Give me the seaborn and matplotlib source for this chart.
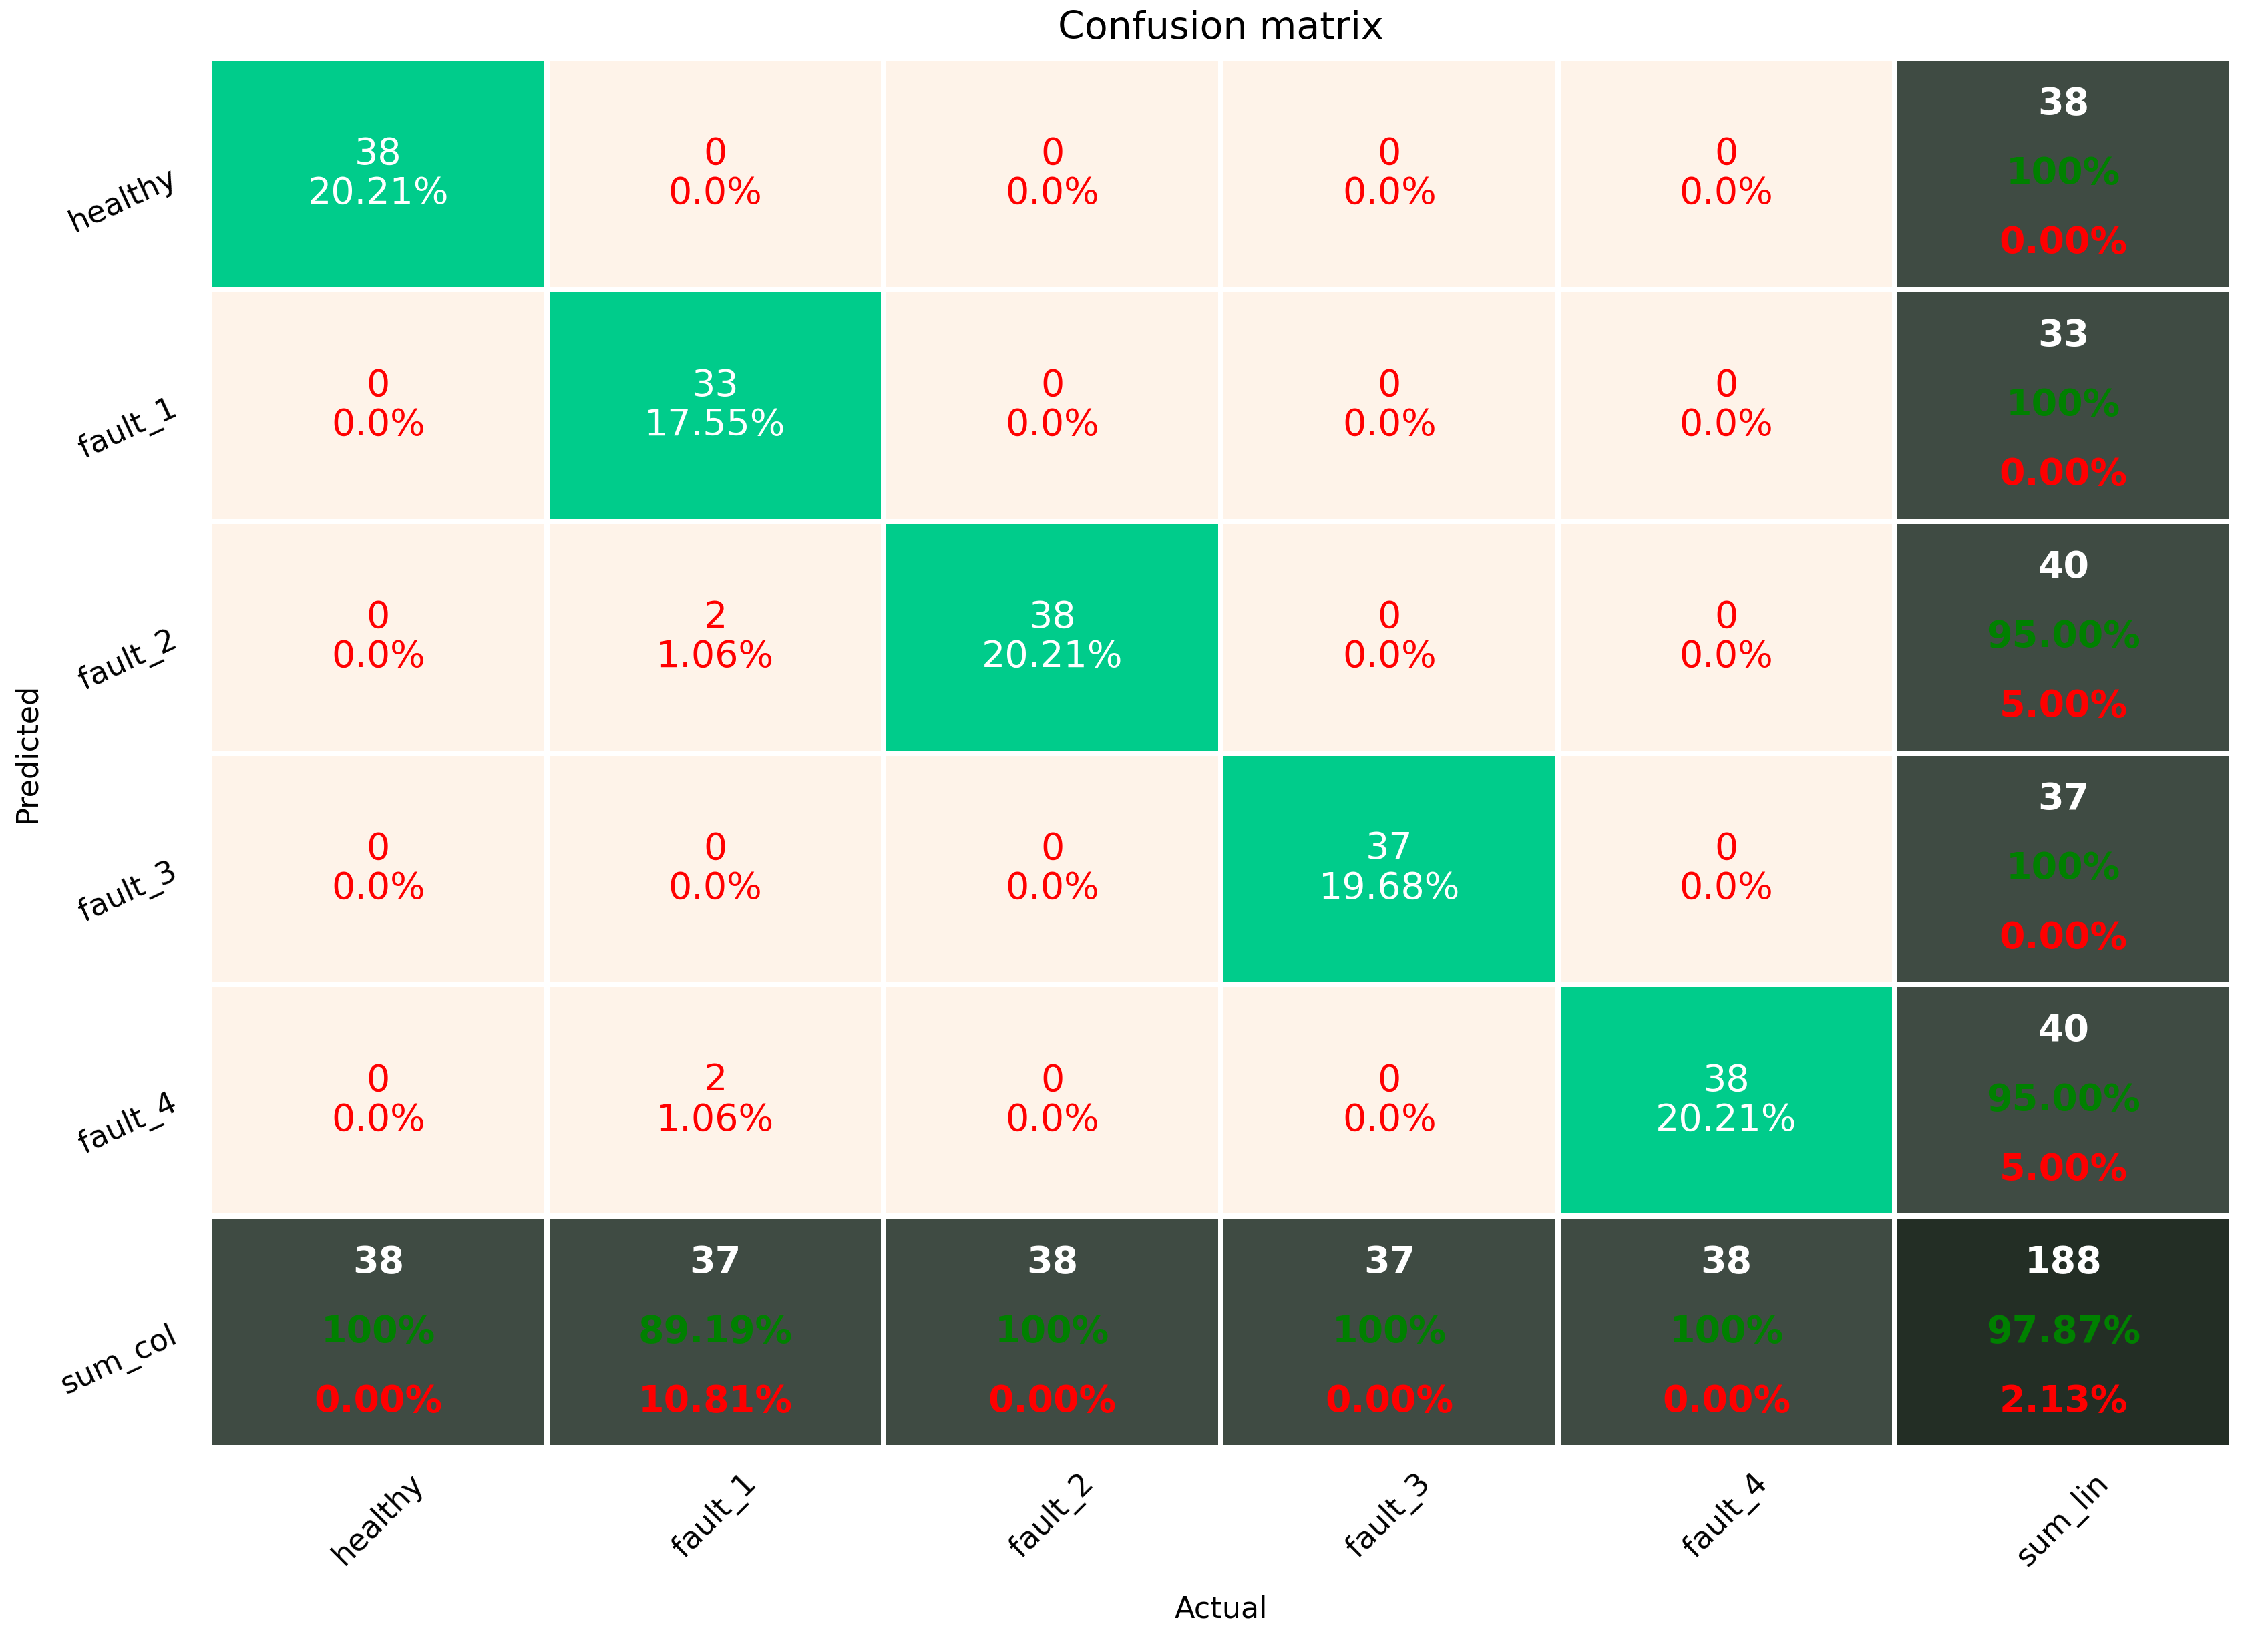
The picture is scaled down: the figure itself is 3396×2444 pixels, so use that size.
import numpy as np
import pandas as pd
import matplotlib.pyplot as plt
import seaborn as sns
from matplotlib.colors import ListedColormap

# classes (rows = predicted, columns = actual)
classes = ["healthy", "fault_1", "fault_2", "fault_3", "fault_4"]
row_labels = classes + ["sum_col"]
col_labels = classes + ["sum_lin"]

counts = [
    [38, 0, 0, 0, 0],
    [0, 33, 0, 0, 0],
    [0, 2, 38, 0, 0],
    [0, 0, 0, 37, 0],
    [0, 2, 0, 0, 38],
]

cream = "#FEF3E9"
green = "#00CC8B"
dark = "#3F4B43"
darker = "#232E25"

cm = np.array(counts)
n = len(classes)
total = cm.sum()
row_sum = cm.sum(axis=1)
col_sum = cm.sum(axis=0)

full = np.zeros((n + 1, n + 1), dtype=int)
full[:n, :n] = cm
full[:n, n] = row_sum
full[n, :n] = col_sum
full[n, n] = total
df = pd.DataFrame(full, index=row_labels, columns=col_labels)

diag = np.zeros(full.shape, dtype=bool)
diag[range(n), range(n)] = True
corner = np.zeros(full.shape, dtype=bool)
corner[n, n] = True
sums = np.zeros(full.shape, dtype=bool)
sums[n, :] = True
sums[:, n] = True
sums[n, n] = False
off = ~(diag | sums | corner)


def pct(v):
    if v == 0:
        return "0.0%"
    return "%.2f%%" % (100 * v / total)


cell_txt = np.empty(full.shape, dtype=object)
for i in range(n + 1):
    for j in range(n + 1):
        cell_txt[i, j] = "%d\n%s" % (full[i, j], pct(full[i, j]))

fig = plt.figure(figsize=(16.98, 12.22), dpi=200)
ax = fig.add_axes([0.0925, 0.1129, 0.8916, 0.8515])

cell_font = dict(fontsize=20)
common = dict(ax=ax, cbar=False, linewidths=2.3, linecolor="white",
              xticklabels=col_labels, yticklabels=row_labels)

sns.heatmap(df, mask=~off, cmap=ListedColormap([cream]), annot=cell_txt, fmt="",
            annot_kws=dict(color="red", linespacing=1.12, **cell_font), **common)
sns.heatmap(df, mask=~diag, cmap=ListedColormap([green]), annot=cell_txt, fmt="",
            annot_kws=dict(color="white", linespacing=1.12, **cell_font), **common)
sns.heatmap(df, mask=~sums, cmap=ListedColormap([dark]), **common)
sns.heatmap(df, mask=~corner, cmap=ListedColormap([darker]), **common)

# totals: count, accuracy, error
for i in range(n + 1):
    for j in range(n + 1):
        if not (sums[i, j] or corner[i, j]):
            continue
        if corner[i, j]:
            ok = np.trace(cm) / total
        elif j == n:
            ok = cm[i, i] / row_sum[i]
        else:
            ok = cm[j, j] / col_sum[j]
        ok_txt = "100%" if ok == 1 else "%.2f%%" % (100 * ok)
        err_txt = "%.2f%%" % (100 * (1 - ok))
        kw = dict(ha="center", va="center", fontweight="bold", **cell_font)
        ax.text(j + 0.5, i + 0.2, str(full[i, j]), color="white", **kw)
        ax.text(j + 0.5, i + 0.5, ok_txt, color="green", **kw)
        ax.text(j + 0.5, i + 0.8, err_txt, color="red", **kw)

ax.set_xticklabels(col_labels, rotation=45, fontsize=16.5)
ax.set_yticklabels(row_labels, rotation=25, fontsize=16.5, va="center_baseline")
ax.tick_params(axis="x", length=0, pad=11)
ax.tick_params(axis="y", length=0, pad=15)

ax.set_title("Confusion matrix", fontsize=20.5, pad=10.5)
ax.set_xlabel("Actual", fontsize=16, labelpad=12)
ax.set_ylabel("Predicted", fontsize=16, labelpad=8)

fig.savefig("out.png", dpi=200)
